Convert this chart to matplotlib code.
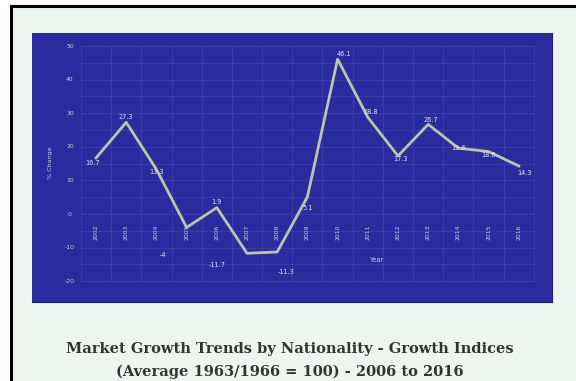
import numpy as np
import matplotlib.pyplot as plt
from matplotlib.patches import Rectangle
from matplotlib.lines import Line2D

years = [2002, 2003, 2004, 2005, 2006, 2007, 2008, 2009,
         2010, 2011, 2012, 2013, 2014, 2015, 2016]
change = [16.7, 27.3, 13.3, -4, 1.9, -11.7, -11.3, 5.1,
          46.1, 28.8, 17.3, 26.7, 19.6, 18.6, 14.3]
label_txt = ["16.7", "27.3", "13.3", "-4", "1.9", "-11.7", "-11.3", "5.1",
             "46.1", "28.8", "17.3", "26.7", "19.6", "18.6", "14.3"]
# label anchor offsets (years, % units) as they sit in the picture
label_dx = [-0.1, 0.0, 0.0, -0.8, 0.0, -1.0, 0.3, 0.0,
            0.2, 0.1, 0.1, 0.1, 0.0, 0.0, 0.2]
label_dy = [-1.5, 1.6, -0.8, -8.2, 1.7, -3.5, -6.0, -3.3,
            1.5, 1.6, -0.9, 1.3, 0.0, -1.0, -2.1]
yticks = [50, 40, 30, 20, 10, 0, -10, -20]

BG = "#eef5f0"
BLUE = "#2a2b9e"
LINE = "#b9c6a8"
TXT = "#c9cde6"
GRID = "#3d3fab"

fig = plt.figure(figsize=(5.76, 3.81), dpi=100)
fig.patch.set_facecolor("white")
W, H = 576, 381
# page background with black frame on top/left
fig.patches.append(Rectangle((11 / W, 0), 1, 1 - 6 / H, transform=fig.transFigure,
                             facecolor=BG, edgecolor="none", zorder=-5))
fig.add_artist(Line2D([11 / W, 1], [1 - 6 / H, 1 - 6 / H], color="black", lw=2.2,
                      transform=fig.transFigure, zorder=-4))
fig.add_artist(Line2D([11 / W, 11 / W], [0, 1 - 6 / H], color="black", lw=2.2,
                      transform=fig.transFigure, zorder=-4))

ax = fig.add_axes([32 / W, 1 - 302 / H, 520 / W, 269 / H])
ax.set_facecolor(BLUE)
for s in ax.spines.values():
    s.set_visible(False)
ax.spines["right"].set_visible(True)
ax.spines["bottom"].set_visible(True)
ax.spines["right"].set_color("#1b1c6a")
ax.spines["bottom"].set_color("#1b1c6a")
ax.set_xticks([])
ax.set_yticks([])
ax.set_xlim(1999.88, 2017.1)
ax.set_ylim(-26.2, 53.9)

# grid inside inner plot area
x0, x1 = years[0] - 0.5, years[-1] + 0.5
ax.hlines([v for v in range(-20, 55, 5)], x0, x1, color=GRID, lw=0.6, zorder=1)
ax.vlines(np.arange(x0, x1 + 0.01, 1.0), -20, 50, color=GRID, lw=0.6, zorder=1)

ax.plot(years, change, color=LINE, lw=2.0, zorder=3)

for yv in yticks:
    ax.text(2001.14, yv, str(yv), color=TXT, fontsize=4.4, ha="center", va="center")
for yr in years:
    ax.text(yr, -5.4, str(yr), color=TXT, fontsize=4.4, ha="center", va="center",
            rotation=90)
for yr, v, t, dx, dy in zip(years, change, label_txt, label_dx, label_dy):
    ax.text(yr + dx, v + dy, t, color="#e2e4f2", fontsize=4.7, ha="center",
            va="center", zorder=4)
ax.text(2000.48, 15.2, "% Change", color=TXT, fontsize=4.6, rotation=90,
        ha="center", va="center")
ax.text(2011.3, -13.7, "Year", color=TXT, fontsize=4.8, ha="center", va="center")

fig.text(290 / W, 1 - 349 / H, "Market Growth Trends by Nationality - Growth Indices",
         fontsize=10.5, fontweight="bold", family="DejaVu Serif", color="#333333",
         ha="center", va="center")
fig.text(290 / W, 1 - 372 / H, "(Average 1963/1966 = 100) - 2006 to 2016",
         fontsize=10.5, fontweight="bold", family="DejaVu Serif", color="#333333",
         ha="center", va="center")

fig.savefig("out.png", dpi=100, facecolor=fig.get_facecolor())
